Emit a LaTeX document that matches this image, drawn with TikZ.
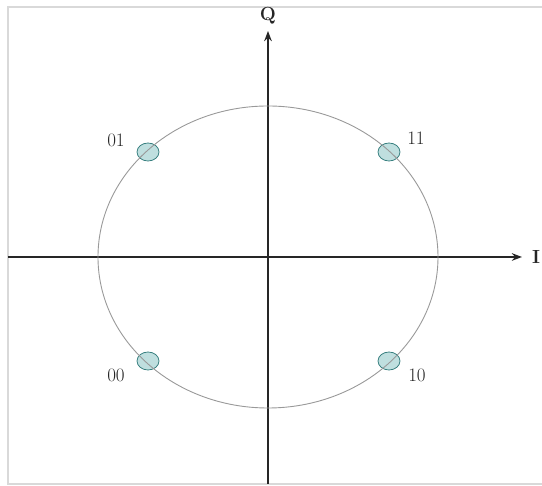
\documentclass[tikz,border=0pt]{standalone}
\usetikzlibrary{positioning,arrows.meta,shapes.geometric}

\begin{document}
\begin{tikzpicture}[
    x=1pt,y=1pt,>=Stealth,
    axis/.style={->,line width=1.6pt,black!85},
    symbol/.style={ellipse,draw=teal!55!gray,fill=teal!25!white,line width=.8pt,
        minimum width=22pt,minimum height=18pt,inner sep=0pt},
    bits/.style={on grid,font=\fontsize{19}{21}\selectfont,text=black!85},
    axlabel/.style={font=\fontsize{19}{21}\selectfont\bfseries,text=black!85}
]
    \useasboundingbox (-268,-229) rectangle (274,257);
    % frame
    \draw[gray!30,line width=1.5pt] (-260,-227) rectangle (290,250);
    %Axes
    \coordinate (O) at (0,0);
    \coordinate (I-start) at (-260,0);
    \coordinate (I-end) at (254,0);
    \coordinate (Q-start) at (0,-227);
    \coordinate (Q-end) at (0,226);
    \draw[axis] (I-start) -- (I-end);
    \draw[axis] (Q-start) -- (Q-end);
    \node[axlabel,anchor=west,inner sep=0pt] (I) at (264,0) {I};
    \node[axlabel] (Q) at (0,241) {Q};
    % constellation points
    \node[symbol] (p01) at (-120,105) {};
    \node[symbol] (p11) at (121,105) {};
    \node[symbol] (p00) at (-120,-104) {};
    \node[symbol] (p10) at (121,-104) {};
    \node[bits,above left=12pt and 32pt of p01] (l01) {01};
    \node[bits,above right=14pt and 27pt of p11] (l11) {11};
    \node[bits,below left=14pt and 32pt of p00] (l00) {00};
    \node[bits,below right=14pt and 28pt of p10] (l10) {10};
    % circle on top, runs through the points
    \draw[gray!80,line width=.9pt] (O) ellipse [x radius=170,y radius=151];
\end{tikzpicture}
\end{document}
